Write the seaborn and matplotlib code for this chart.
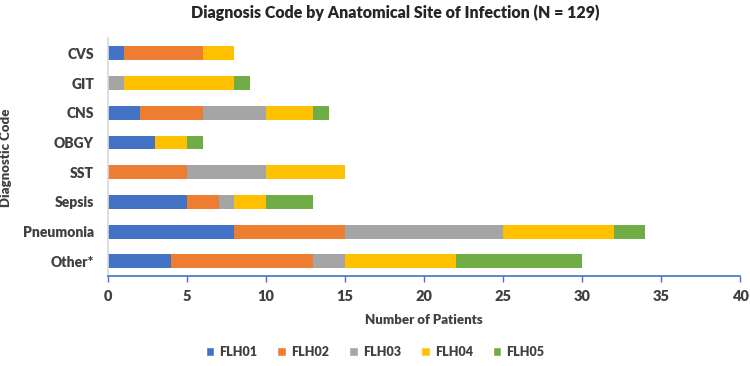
import matplotlib
matplotlib.use("Agg")
import matplotlib.pyplot as plt
import seaborn as sns
import pandas as pd
import numpy as np
from matplotlib.patches import Patch

categories = ["CVS", "GIT", "CNS", "OBGY", "SST", "Sepsis", "Pneumonia", "Other*"]
series_names = ["FLH01", "FLH02", "FLH03", "FLH04", "FLH05"]
flh01 = [1, 0, 2, 3, 0, 5, 8, 4]
flh02 = [5, 0, 4, 0, 5, 2, 7, 9]
flh03 = [0, 1, 4, 0, 5, 1, 10, 2]
flh04 = [2, 7, 3, 2, 5, 2, 7, 7]
flh05 = [0, 1, 1, 1, 0, 3, 2, 8]
colors = ["#4472C4", "#ED7D31", "#A5A5A5", "#FFC000", "#70AD47"]

sns.set_theme(style="white")
plt.rcParams['font.family'] = ['Lato', 'DejaVu Sans']

data = np.array([flh01, flh02, flh03, flh04, flh05])
cum = np.cumsum(data, axis=0)

fig = plt.figure(figsize=(7.5, 3.66), dpi=100)
ax = fig.add_axes([0.144, 0.245, 0.843, 0.65])

for i in range(len(series_names) - 1, -1, -1):
    df = pd.DataFrame({"cat": categories, "val": cum[i]})
    sns.barplot(data=df, x="val", y="cat", order=categories, color=colors[i],
                width=0.47, saturation=1, ax=ax, orient="h", linewidth=0)

ax.set_xlim(0, 40)
ax.set_xticks(range(0, 41, 5))
ax.set_xlabel("Number of Patients", fontsize=9.5, fontweight="heavy", color="#404040", labelpad=8)
ax.set_ylabel("Diagnostic Code", fontsize=9.5, fontweight="heavy", color="#404040", labelpad=8)
ax.tick_params(axis="x", labelsize=10.5, colors="#404040", length=4, width=1, direction="out", bottom=True, pad=6)
ax.tick_params(axis="x", color="#4472C4")
ax.tick_params(axis="y", labelsize=10, colors="#404040", length=0, pad=10)
for lbl in ax.get_xticklabels() + ax.get_yticklabels():
    lbl.set_fontweight("heavy")
for s in ["top", "right"]:
    ax.spines[s].set_visible(False)
ax.spines["left"].set_color("#D9D9D9")
ax.spines["bottom"].set_color("#4472C4")
ax.spines["bottom"].set_linewidth(1.2)

ax.set_title("Diagnosis Code by Anatomical Site of Infection (N = 129)",
             fontsize=11.5, fontweight="heavy", color="#262626", pad=0, y=1.085, x=0.455)

handles = [Patch(facecolor=c, label=n) for c, n in zip(colors, series_names)]
fig.legend(handles=handles, loc="center", bbox_to_anchor=(0.5, 0.038), ncol=5,
           frameon=False, handlelength=0.7, handleheight=0.7,
           columnspacing=1.6, handletextpad=0.4,
           prop={"weight": "heavy", "size": 9})
for t in fig.legends[0].get_texts():
    t.set_color("#404040")

fig.savefig("out.png", dpi=100)
